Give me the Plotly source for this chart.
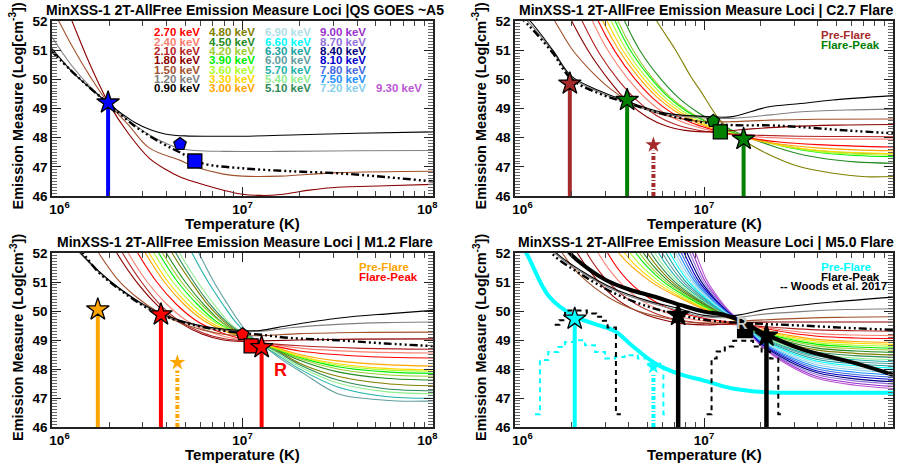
import plotly.graph_objects as go

FONT = "Liberation Sans, Arial, Helvetica, sans-serif"
W, H = 905, 468

# ---------------- colours of the energy loci ----------------
ENERGY_COLORS = {
    "0.90": "#000000", "1.20": "#808080", "1.50": "#A0522D", "1.80": "#8B0000",
    "2.10": "#B22222", "2.40": "#FA8072", "2.70": "#FF0000", "3.00": "#FFA500",
    "3.30": "#FFD700", "3.60": "#ADFF2F", "3.90": "#00EE00", "4.20": "#9ACD32",
    "4.50": "#228B22", "4.80": "#808000", "5.10": "#2E8B57", "5.40": "#90EE90",
    "5.70": "#20B2AA", "6.00": "#5F9EA0", "6.30": "#1AA3A3", "6.60": "#00FFFF",
    "6.90": "#B0E0E6", "7.20": "#87CEEB", "7.50": "#1E90FF", "7.80": "#4169E1",
    "8.10": "#0000CD", "8.40": "#000080", "8.70": "#9370DB", "9.00": "#9932CC",
    "9.30": "#BA55D3",
}
LEGEND_COLUMNS = [
    ["2.70", "2.40", "2.10", "1.80", "1.50", "1.20", "0.90"],
    ["4.80", "4.50", "4.20", "3.90", "3.60", "3.30", "3.00"],
    ["6.90", "6.60", "6.30", "6.00", "5.70", "5.40", "5.10"],
    ["9.00", "8.70", "8.40", "8.10", "7.80", "7.50", "7.20"],
    ["", "", "", "", "", "", "9.30"],
]

# ---------------- loci: [log10 T, log EM] ----------------
QS_LOCI = {
    "1.80": [[6.05, 52.9], [6.105, 52.0], [6.2, 50.5], [6.3, 49.15], [6.4, 48.15], [6.51, 47.3], [6.6, 46.9], [6.67, 46.66], [6.75, 46.48], [6.9, 46.2], [7.0, 46.06], [7.1, 46.02], [7.2, 46.05], [7.35, 46.2], [7.5, 46.3], [7.75, 46.35], [8.0, 46.4]],
    "1.50": [[5.98, 52.6], [6.035, 52.0], [6.1, 51.2], [6.2, 50.1], [6.3, 49.15], [6.4, 48.45], [6.51, 47.65], [6.67, 47.23], [6.75, 47.0], [6.9, 46.75], [7.0, 46.68], [7.2, 46.68], [7.5, 46.8], [8.0, 46.85]],
    "1.20": [[6.0, 51.45], [6.1, 50.5], [6.2, 49.75], [6.3, 49.15], [6.4, 48.6], [6.51, 48.1], [6.6, 47.8], [6.67, 47.63], [6.75, 47.56], [6.9, 47.53], [7.2, 47.53], [7.6, 47.55], [8.0, 47.56]],
    "0.90": [[6.0, 51.05], [6.1, 50.3], [6.2, 49.7], [6.3, 49.15], [6.44, 48.5], [6.52, 48.26], [6.6, 48.12], [6.7, 48.06], [6.85, 48.05], [7.0, 48.05], [7.3, 48.1], [7.6, 48.15], [8.0, 48.2]],
}
QS_DASH = [[6.0, 50.95], [6.1, 50.3], [6.2, 49.7], [6.3, 49.15], [6.44, 48.37], [6.58, 47.8], [6.67, 47.5], [6.79, 47.12], [7.0, 46.95], [7.25, 46.85], [7.5, 46.78], [7.75, 46.65], [8.0, 46.5]]

C27_LOCI = {
    "4.80": [[6.7, 52.6], [6.75, 52.0], [6.85, 51.0], [6.93, 50.1], [6.979, 49.63], [7.085, 48.6], [7.208, 47.92], [7.332, 47.46], [7.508, 47.0], [7.683, 46.78], [7.86, 46.66], [8.0, 46.67]],
    "4.50": [[6.53, 52.8], [6.58, 52.0], [6.66, 51.0], [6.76, 50.1], [6.86, 49.4], [6.96, 48.9], [7.06, 48.52], [7.16, 48.22], [7.26, 47.95], [7.36, 47.72], [7.5, 47.45], [7.65, 47.27], [7.8, 47.17], [8.0, 47.12]],
    "4.20": [[6.5, 52.8], [6.545, 52.0], [6.625, 51.0], [6.72, 50.1], [6.82, 49.4], [6.92, 48.9], [7.02, 48.55], [7.12, 48.27], [7.22, 48.05], [7.32, 47.88], [7.46, 47.68], [7.6, 47.55], [7.8, 47.47], [8.0, 47.45]],
    "3.90": [[6.48, 52.8], [6.53, 52.0], [6.61, 51.0], [6.71, 50.1], [6.81, 49.4], [6.91, 48.9], [7.01, 48.55], [7.11, 48.27], [7.21, 48.05], [7.31, 47.88], [7.46, 47.65], [7.6, 47.5], [7.8, 47.39], [8.0, 47.35]],
    "3.60": [[6.46, 52.8], [6.51, 52.0], [6.59, 51.0], [6.69, 50.1], [6.79, 49.4], [6.89, 48.9], [6.99, 48.55], [7.09, 48.28], [7.19, 48.07], [7.29, 47.9], [7.44, 47.68], [7.6, 47.52], [7.8, 47.43], [8.0, 47.4]],
    "3.30": [[6.44, 52.8], [6.487, 52.0], [6.57, 51.0], [6.67, 50.1], [6.77, 49.4], [6.87, 48.9], [6.97, 48.55], [7.07, 48.28], [7.17, 48.08], [7.27, 47.92], [7.42, 47.72], [7.6, 47.57], [7.8, 47.49], [8.0, 47.45]],
    "3.00": [[6.415, 52.8], [6.465, 52.0], [6.55, 51.0], [6.65, 50.1], [6.75, 49.4], [6.85, 48.9], [6.95, 48.55], [7.05, 48.3], [7.15, 48.1], [7.25, 47.95], [7.4, 47.78], [7.6, 47.65], [7.8, 47.58], [8.0, 47.55]],
    "2.70": [[6.39, 52.8], [6.44, 52.0], [6.53, 50.95], [6.63, 50.05], [6.73, 49.35], [6.83, 48.85], [6.93, 48.52], [7.03, 48.3], [7.13, 48.13], [7.23, 48.0], [7.4, 47.85], [7.6, 47.76], [7.8, 47.71], [8.0, 47.68]],
    "2.40": [[6.36, 52.8], [6.41, 52.0], [6.5, 50.9], [6.6, 50.0], [6.7, 49.3], [6.8, 48.8], [6.9, 48.5], [7.0, 48.3], [7.1, 48.15], [7.2, 48.06], [7.35, 48.0], [7.55, 47.96], [7.8, 47.95], [8.0, 47.95]],
    "2.10": [[6.3, 52.8], [6.355, 52.0], [6.45, 50.85], [6.55, 49.95], [6.65, 49.25], [6.75, 48.75], [6.85, 48.45], [6.95, 48.28], [7.05, 48.18], [7.15, 48.12], [7.3, 48.08], [7.5, 48.05], [7.75, 48.04], [8.0, 48.03]],
    "1.80": [[6.25, 52.7], [6.3, 52.0], [6.4, 50.85], [6.5, 49.95], [6.6, 49.2], [6.7, 48.7], [6.8, 48.4], [6.9, 48.25], [7.0, 48.2], [7.1, 48.22], [7.25, 48.3], [7.45, 48.38], [7.7, 48.43], [8.0, 48.45]],
    "1.50": [[6.15, 52.6], [6.21, 52.0], [6.3, 51.05], [6.4, 50.3], [6.5, 49.7], [6.6, 49.25], [6.7, 48.95], [6.8, 48.75], [6.9, 48.62], [7.0, 48.55], [7.15, 48.55], [7.35, 48.6], [7.6, 48.63], [8.0, 48.64]],
    "1.20": [[6.0, 52.4], [6.08, 51.9], [6.2, 50.95], [6.3, 50.05], [6.45, 49.55], [6.59, 49.2], [6.79, 48.8], [7.0, 48.68], [7.15, 48.66], [7.35, 48.78], [7.5, 48.88], [7.75, 48.95], [8.0, 48.98]],
    "0.90": [[6.0, 52.5], [6.08, 52.0], [6.2, 51.0], [6.3, 50.1], [6.45, 49.6], [6.59, 49.25], [6.79, 48.85], [7.0, 48.73], [7.15, 48.72], [7.33, 49.04], [7.51, 49.17], [7.68, 49.29], [8.0, 49.44]],
}
C27_DASH = [[6.0, 52.3], [6.08, 51.8], [6.2, 50.9], [6.3, 50.0], [6.45, 49.5], [6.59, 49.2], [6.79, 48.8], [7.0, 48.52], [7.15, 48.43], [7.35, 48.42], [7.5, 48.37], [7.75, 48.25], [8.0, 48.15]]

M12_LOCI = {
    "6.00": [[6.72, 52.6], [6.77, 52.0], [6.85, 51.0], [6.92, 50.25], [6.98, 49.65], [7.02, 49.3], [7.06, 49.05], [7.12, 48.75], [7.2, 48.35], [7.32, 47.85], [7.5, 47.15], [7.7, 46.95], [7.85, 46.89], [8.0, 46.9]],
    "5.70": [[6.69, 52.6], [6.735, 52.0], [6.82, 51.0], [6.9, 50.2], [6.96, 49.65], [7.01, 49.3], [7.05, 49.08], [7.1, 48.85], [7.18, 48.5], [7.3, 48.0], [7.5, 47.38], [7.75, 47.05], [8.0, 46.99]],
    "5.40": [[6.62, 52.6], [6.67, 52.0], [6.77, 50.95], [6.86, 50.15], [6.93, 49.6], [6.99, 49.3], [7.04, 49.08], [7.1, 48.85], [7.18, 48.55], [7.3, 48.08], [7.5, 47.52], [7.75, 47.22], [8.0, 47.15]],
    "5.10": [[6.6, 52.6], [6.65, 52.0], [6.75, 50.95], [6.84, 50.15], [6.92, 49.6], [6.98, 49.3], [7.04, 49.07], [7.1, 48.87], [7.18, 48.6], [7.3, 48.15], [7.5, 47.62], [7.75, 47.32], [8.0, 47.25]],
    "4.80": [[6.58, 52.6], [6.63, 52.0], [6.73, 51.0], [6.82, 50.2], [6.9, 49.65], [6.97, 49.3], [7.04, 49.06], [7.1, 48.88], [7.18, 48.65], [7.3, 48.2], [7.5, 47.75], [7.75, 47.5], [8.0, 47.42]],
    "4.50": [[6.55, 52.6], [6.6, 52.0], [6.7, 51.0], [6.8, 50.2], [6.89, 49.62], [6.97, 49.27], [7.04, 49.06], [7.1, 48.9], [7.17, 48.7], [7.3, 48.3], [7.5, 47.9], [7.75, 47.68], [8.0, 47.62]],
    "4.20": [[6.53, 52.6], [6.58, 52.0], [6.68, 51.0], [6.78, 50.25], [6.88, 49.65], [6.96, 49.3], [7.03, 49.08], [7.09, 48.93], [7.16, 48.74], [7.3, 48.35], [7.5, 48.0], [7.75, 47.8], [8.0, 47.75]],
    "3.90": [[6.51, 52.6], [6.56, 52.0], [6.66, 51.0], [6.76, 50.25], [6.86, 49.65], [6.95, 49.3], [7.02, 49.1], [7.08, 48.95], [7.15, 48.76], [7.3, 48.4], [7.5, 48.08], [7.75, 47.9], [8.0, 47.85]],
    "3.60": [[6.485, 52.6], [6.535, 52.0], [6.635, 51.0], [6.735, 50.25], [6.835, 49.7], [6.935, 49.33], [7.0, 49.15], [7.07, 48.96], [7.15, 48.77], [7.3, 48.42], [7.5, 48.13], [7.75, 47.97], [8.0, 47.92]],
    "3.30": [[6.46, 52.6], [6.51, 52.0], [6.61, 51.0], [6.71, 50.25], [6.81, 49.7], [6.91, 49.35], [7.0, 49.12], [7.07, 48.95], [7.15, 48.78], [7.3, 48.45], [7.5, 48.18], [7.75, 48.02], [8.0, 47.97]],
    "3.00": [[6.44, 52.6], [6.49, 52.0], [6.59, 51.0], [6.69, 50.25], [6.79, 49.7], [6.89, 49.35], [6.99, 49.1], [7.07, 48.95], [7.15, 48.8], [7.3, 48.5], [7.5, 48.28], [7.75, 48.15], [8.0, 48.1]],
    "2.70": [[6.4, 52.6], [6.45, 52.0], [6.55, 51.0], [6.65, 50.25], [6.75, 49.7], [6.85, 49.35], [6.95, 49.12], [7.05, 48.98], [7.15, 48.82], [7.3, 48.62], [7.6, 48.45], [8.0, 48.38]],
    "2.40": [[6.35, 52.6], [6.4, 52.0], [6.5, 51.0], [6.6, 50.25], [6.7, 49.7], [6.8, 49.35], [6.9, 49.13], [7.0, 49.0], [7.1, 48.9], [7.3, 48.72], [7.6, 48.6], [8.0, 48.55]],
    "2.10": [[6.32, 52.6], [6.37, 52.0], [6.47, 51.0], [6.57, 50.2], [6.67, 49.65], [6.79, 49.25], [6.9, 49.05], [7.0, 48.97], [7.1, 48.9], [7.3, 48.8], [7.6, 48.72], [8.0, 48.68]],
    "1.80": [[6.29, 52.6], [6.34, 52.0], [6.45, 50.95], [6.56, 50.15], [6.67, 49.6], [6.79, 49.2], [6.9, 49.0], [7.0, 48.95], [7.1, 48.97], [7.3, 49.0], [7.6, 49.03], [8.0, 49.04]],
    "1.50": [[6.2, 52.5], [6.245, 52.0], [6.35, 51.05], [6.45, 50.45], [6.56, 49.95], [6.67, 49.6], [6.79, 49.35], [6.9, 49.2], [7.0, 49.15], [7.1, 49.15], [7.3, 49.22], [7.6, 49.26], [8.0, 49.27]],
    "1.20": [[6.1, 52.35], [6.15, 51.97], [6.25, 51.32], [6.35, 50.78], [6.45, 50.32], [6.56, 49.92], [6.67, 49.65], [6.79, 49.45], [6.9, 49.35], [7.0, 49.3], [7.1, 49.3], [7.25, 49.42], [7.5, 49.54], [7.75, 49.6], [8.0, 49.62]],
    "0.90": [[6.1, 52.4], [6.15, 52.0], [6.25, 51.35], [6.35, 50.8], [6.45, 50.35], [6.56, 49.95], [6.67, 49.68], [6.79, 49.48], [6.9, 49.38], [7.0, 49.33], [7.09, 49.33], [7.25, 49.51], [7.51, 49.76], [7.775, 49.91], [8.0, 50.02]],
}
M12_DASH = [[6.12, 52.3], [6.17, 51.93], [6.25, 51.3], [6.35, 50.77], [6.45, 50.3], [6.56, 49.9], [6.67, 49.65], [6.79, 49.45], [6.9, 49.32], [6.98, 49.25], [7.1, 49.18], [7.25, 49.07], [7.5, 48.99], [7.75, 48.88], [8.0, 48.79]]

M50_LOCI = {
    "9.30": [[6.905, 52.7], [6.955, 52.0], [7.016, 51.04], [7.078, 50.44], [7.139, 49.96], [7.2, 49.6], [7.3, 48.81], [7.45, 48.12], [7.6, 47.67], [7.8, 47.44], [8.0, 47.33]],
    "9.00": [[6.89, 52.7], [6.94, 52.0], [7.005, 51.04], [7.07, 50.44], [7.135, 49.96], [7.2, 49.6], [7.3, 48.83], [7.45, 48.17], [7.6, 47.73], [7.8, 47.51], [8.0, 47.4]],
    "8.70": [[6.875, 52.7], [6.925, 52.0], [6.994, 51.04], [7.063, 50.44], [7.131, 49.96], [7.2, 49.6], [7.3, 48.86], [7.45, 48.22], [7.6, 47.8], [7.8, 47.59], [8.0, 47.48]],
    "8.40": [[6.86, 52.7], [6.91, 52.0], [6.983, 51.04], [7.055, 50.44], [7.128, 49.96], [7.2, 49.6], [7.3, 48.89], [7.45, 48.27], [7.6, 47.87], [7.8, 47.66], [8.0, 47.56]],
    "8.10": [[6.845, 52.7], [6.895, 52.0], [6.971, 51.04], [7.048, 50.44], [7.124, 49.96], [7.2, 49.6], [7.3, 48.91], [7.45, 48.33], [7.6, 47.93], [7.8, 47.74], [8.0, 47.64]],
    "7.80": [[6.83, 52.7], [6.88, 52.0], [6.96, 51.04], [7.04, 50.44], [7.12, 49.96], [7.2, 49.6], [7.3, 48.94], [7.45, 48.38], [7.6, 48.0], [7.8, 47.81], [8.0, 47.72]],
    "7.50": [[6.815, 52.7], [6.865, 52.0], [6.949, 51.04], [7.033, 50.44], [7.116, 49.96], [7.2, 49.6], [7.3, 48.97], [7.45, 48.43], [7.6, 48.07], [7.8, 47.89], [8.0, 47.8]],
    "7.20": [[6.8, 52.7], [6.85, 52.0], [6.938, 51.04], [7.025, 50.44], [7.113, 49.96], [7.2, 49.6], [7.3, 49.0], [7.45, 48.48], [7.6, 48.14], [7.8, 47.97], [8.0, 47.88]],
    "6.90": [[6.785, 52.7], [6.835, 52.0], [6.926, 51.04], [7.018, 50.44], [7.109, 49.96], [7.2, 49.6], [7.3, 49.03], [7.45, 48.53], [7.6, 48.21], [7.8, 48.04], [8.0, 47.96]],
    "6.60": [[6.77, 52.7], [6.82, 52.0], [6.915, 51.04], [7.01, 50.44], [7.105, 49.96], [7.2, 49.6], [7.3, 49.05], [7.45, 48.58], [7.6, 48.27], [7.8, 48.11], [8.0, 48.03]],
    "6.30": [[6.75, 52.7], [6.8, 52.0], [6.9, 51.04], [7.0, 50.44], [7.1, 49.96], [7.2, 49.6], [7.3, 49.08], [7.45, 48.63], [7.6, 48.33], [7.8, 48.18], [8.0, 48.1]],
    "6.00": [[6.73, 52.7], [6.78, 52.0], [6.885, 51.04], [6.99, 50.44], [7.095, 49.96], [7.2, 49.6], [7.3, 49.1], [7.45, 48.68], [7.6, 48.39], [7.8, 48.25], [8.0, 48.18]],
    "5.70": [[6.71, 52.7], [6.76, 52.0], [6.87, 51.04], [6.98, 50.44], [7.09, 49.96], [7.2, 49.6], [7.3, 49.13], [7.45, 48.72], [7.6, 48.45], [7.8, 48.32], [8.0, 48.25]],
    "5.40": [[6.69, 52.7], [6.74, 52.0], [6.855, 51.04], [6.97, 50.44], [7.085, 49.96], [7.2, 49.6], [7.3, 49.15], [7.45, 48.77], [7.6, 48.51], [7.8, 48.38], [8.0, 48.32]],
    "5.10": [[6.67, 52.7], [6.72, 52.0], [6.84, 51.04], [6.96, 50.44], [7.08, 49.96], [7.2, 49.6], [7.3, 49.18], [7.45, 48.82], [7.6, 48.58], [7.8, 48.46], [8.0, 48.4]],
    "4.80": [[6.65, 52.7], [6.7, 52.0], [6.825, 51.04], [6.95, 50.44], [7.075, 49.96], [7.2, 49.6], [7.3, 49.21], [7.45, 48.87], [7.6, 48.65], [7.8, 48.54], [8.0, 48.48]],
    "4.50": [[6.63, 52.7], [6.68, 52.0], [6.81, 51.04], [6.94, 50.44], [7.07, 49.96], [7.2, 49.6], [7.3, 49.24], [7.45, 48.93], [7.6, 48.72], [7.8, 48.62], [8.0, 48.57]],
    "4.20": [[6.61, 52.7], [6.66, 52.0], [6.795, 51.04], [6.93, 50.44], [7.065, 49.96], [7.2, 49.6], [7.3, 49.27], [7.45, 48.98], [7.6, 48.79], [7.8, 48.7], [8.0, 48.65]],
    "3.90": [[6.59, 52.7], [6.64, 52.0], [6.78, 51.04], [6.92, 50.44], [7.06, 49.96], [7.2, 49.6], [7.3, 49.29], [7.45, 49.03], [7.6, 48.85], [7.8, 48.76], [8.0, 48.72]],
    "3.60": [[6.56, 52.7], [6.61, 52.0], [6.758, 51.04], [6.905, 50.44], [7.053, 49.96], [7.2, 49.6], [7.3, 49.31], [7.45, 49.07], [7.6, 48.9], [7.8, 48.82], [8.0, 48.78]],
    "3.30": [[6.53, 52.7], [6.58, 52.0], [6.735, 51.04], [6.89, 50.44], [7.045, 49.96], [7.2, 49.6], [7.3, 49.34], [7.45, 49.11], [7.6, 48.96], [7.8, 48.89], [8.0, 48.85]],
    "3.00": [[6.5, 52.7], [6.55, 52.0], [6.713, 51.04], [6.875, 50.44], [7.038, 49.96], [7.2, 49.6], [7.3, 49.36], [7.45, 49.16], [7.6, 49.02], [7.8, 48.95], [8.0, 48.92]],
    "2.70": [[6.44, 52.7], [6.49, 52.0], [6.59, 51.1], [6.71, 50.45], [6.85, 50.0], [7.0, 49.75], [7.12, 49.63], [7.2, 49.57], [7.3, 49.43], [7.45, 49.25], [7.6, 49.13], [7.8, 49.07], [8.0, 49.05]],
    "2.40": [[6.39, 52.7], [6.44, 52.0], [6.54, 51.1], [6.66, 50.4], [6.8, 49.95], [6.95, 49.7], [7.1, 49.6], [7.2, 49.55], [7.3, 49.45], [7.45, 49.32], [7.6, 49.22], [7.8, 49.17], [8.0, 49.15]],
    "2.10": [[6.33, 52.7], [6.38, 52.0], [6.48, 51.1], [6.6, 50.4], [6.75, 49.9], [6.9, 49.65], [7.05, 49.55], [7.2, 49.52], [7.3, 49.47], [7.45, 49.4], [7.6, 49.35], [7.8, 49.32], [8.0, 49.3]],
    "1.80": [[6.28, 52.7], [6.33, 52.0], [6.43, 51.1], [6.55, 50.35], [6.7, 49.85], [6.85, 49.6], [7.0, 49.52], [7.1, 49.55], [7.2, 49.6], [7.4, 49.62], [7.7, 49.62], [8.0, 49.62]],
    "1.50": [[6.2, 52.6], [6.25, 52.0], [6.35, 51.2], [6.5, 50.45], [6.65, 50.0], [6.8, 49.75], [6.95, 49.6], [7.1, 49.6], [7.2, 49.65], [7.4, 49.72], [7.7, 49.78], [8.0, 49.8]],
    "1.20": [[6.16, 52.5], [6.21, 52.0], [6.353, 51.33], [6.53, 50.7], [6.705, 50.3], [6.847, 50.05], [7.0, 49.8], [7.17, 49.78], [7.33, 49.9], [7.51, 49.98], [7.75, 50.05], [8.0, 50.08]],
    "0.90": [[6.17, 52.5], [6.22, 52.0], [6.353, 51.38], [6.53, 50.75], [6.705, 50.35], [6.847, 50.12], [7.0, 49.85], [7.17, 49.85], [7.33, 50.06], [7.51, 50.2], [7.68, 50.31], [8.0, 50.48]],
}
M50_DASH = [[6.15, 52.4], [6.2, 51.95], [6.353, 51.25], [6.53, 50.6], [6.705, 50.15], [6.847, 49.9], [7.0, 49.7], [7.17, 49.6], [7.33, 49.55], [7.51, 49.5], [7.75, 49.42], [8.0, 49.35]]
M50_PEAK_THICK = [[6.25, 52.5], [6.29, 52.0], [6.4, 51.4], [6.48, 51.07], [6.6, 50.75], [6.74, 50.49], [6.88, 50.2], [7.0, 49.98], [7.1, 49.88], [7.18, 49.7], [7.32, 49.22], [7.52, 48.68], [7.8, 48.2], [8.0, 47.8]]
M50_PRE_THICK = [[6.0, 52.6], [6.06, 52.0], [6.18, 50.5], [6.32, 49.8], [6.42, 49.56], [6.53, 49.3], [6.62, 48.8], [6.74, 48.2], [6.86, 47.85], [7.0, 47.6], [7.15, 47.33], [7.33, 47.2], [7.6, 47.18], [8.0, 47.18]]

# Woods et al. 2017 DEM histograms (step edges in log T, values in log EM)
WOODS_PRE_LOGT = [6.106, 6.132, 6.176, 6.23, 6.265, 6.31, 6.37, 6.423, 6.476, 6.53, 6.58, 6.65, 6.705, 6.785, 6.81]
WOODS_PRE_EM = [46.44, 48.31, 48.59, 48.76, 48.93, 48.99, 48.82, 48.59, 48.36, 48.41, 48.47, 48.36, 48.18, 46.44, 46.44]
WOODS_PEAK1_LOGT = [6.21, 6.235, 6.265, 6.38, 6.43, 6.465, 6.49, 6.534, 6.56]
WOODS_PEAK1_EM = [49.53, 49.68, 50.02, 49.91, 49.8, 49.66, 49.43, 46.44, 46.44]
WOODS_PEAK2_LOGT = [7.014, 7.04, 7.067, 7.11, 7.155, 7.26, 7.305, 7.35, 7.393, 7.416]
WOODS_PEAK2_EM = [46.44, 48.36, 48.6, 48.78, 48.97, 48.78, 48.6, 48.36, 46.44, 46.44]

# ---------------- fitted solutions (T in K, log EM) ----------------
QS_STAR = (1.97e6, 49.2)
QS_PENT = (4.7e6, 47.78)
QS_SQUARE = (5.62e6, 47.2)

C27_PRE_STAR = (1.95e6, 49.85)
C27_PRE_SMALL = (5.4e6, 47.75, 47.55)
C27_PEAK_STARS = [(3.92e6, 49.29), (1.62e7, 47.95)]
C27_PENT = (1.12e7, 48.57)
C27_SQUARE = (1.22e7, 48.2)

M12_PRE_STAR = (1.74e6, 50.05)
M12_PRE_SMALL = (4.55e6, 48.22, 47.95)
M12_PEAK_STARS = [(3.73e6, 49.88), (1.26e7, 48.75)]
M12_PENT = (1.0e7, 49.2)
M12_SQUARE = (1.11e7, 48.8)

M50_PRE_STAR = (2.07e6, 49.73)
M50_PRE_SMALL = (5.4e6, 48.07, 47.85)
M50_PEAK_STARS = [(7.3e6, 49.86), (2.14e7, 49.14)]
M50_SQUARE = (1.65e7, 49.34)

TITLES = [
    "MinXSS-1 2T-AllFree Emission Measure Loci |QS GOES ~A5",
    "MinXSS-1 2T-AllFree Emission Measure Loci | C2.7 Flare",
    "MinXSS-1 2T-AllFree Emission Measure Loci | M1.2 Flare",
    "MinXSS-1 2T-AllFree Emission Measure Loci | M5.0 Flare",
]
X_TICKS = [1e6, 1e7, 1e8]
X_TICKTEXT = ["\u00a0\u00a0\u00a0\u00a010<sup>6</sup>", "10<sup>7</sup>", "10<sup>8</sup>\u00a0\u00a0\u00a0"]
Y_TICKS = [46, 47, 48, 49, 50, 51, 52]
X_MINOR = [m * d for d in (1e6, 1e7) for m in range(2, 10)]

# ---------------- layout geometry (pixels) ----------------
PANELS = {
    "tl": dict(x0=52, x1=433, y0=21, y1=196, xa="x", ya="y"),
    "tr": dict(x0=515, x1=893, y0=21, y1=196, xa="x2", ya="y2"),
    "bl": dict(x0=52, x1=433, y0=253, y1=427, xa="x3", ya="y3"),
    "br": dict(x0=515, x1=893, y0=253, y1=427, xa="x4", ya="y4"),
}

fig = go.Figure()


def px(x, y):
    return x / W, 1 - y / H


def add_line(p, pts, color, width=1.1, dash=None, shape="spline"):
    pan = PANELS[p]
    fig.add_trace(go.Scatter(
        x=[10 ** a for a, b in pts], y=[b for a, b in pts], mode="lines",
        line=dict(color=color, width=width, dash=dash, shape=shape, smoothing=1.0),
        xaxis=pan["xa"], yaxis=pan["ya"], hoverinfo="skip", showlegend=False))


def add_vline(p, t, em_top, color, width=4, dash=None):
    pan = PANELS[p]
    fig.add_trace(go.Scatter(x=[t, t], y=[46, em_top], mode="lines",
                             line=dict(color=color, width=width, dash=dash),
                             xaxis=pan["xa"], yaxis=pan["ya"], hoverinfo="skip", showlegend=False))


def add_marker(p, t, em, symbol, size, color, outline=True):
    pan = PANELS[p]
    fig.add_trace(go.Scatter(x=[t], y=[em], mode="markers",
                             marker=dict(symbol=symbol, size=size, color=color,
                                         line=dict(color="black", width=1.3 if outline else 0)),
                             xaxis=pan["xa"], yaxis=pan["ya"], hoverinfo="skip", showlegend=False,
                             cliponaxis=False))


DASHDOT3 = "8px,3px,2px,3px,2px,3px,2px,3px"
SMALLDASH = "4px,2px,1px,2px"
BIG = 17

# ---- QS panel ----
for e, pts in QS_LOCI.items():
    add_line("tl", pts, ENERGY_COLORS[e])
add_line("tl", QS_DASH, "black", width=2.4, dash=DASHDOT3)
add_vline("tl", QS_STAR[0], QS_STAR[1], "#0000FF")
add_marker("tl", QS_STAR[0], QS_STAR[1], "star", BIG, "#0000FF")
add_marker("tl", QS_PENT[0], QS_PENT[1], "pentagon", 13, "#0000FF")
add_marker("tl", QS_SQUARE[0], QS_SQUARE[1], "square", 14, "#0000FF")

# ---- C2.7 panel ----
for e, pts in C27_LOCI.items():
    add_line("tr", pts, ENERGY_COLORS[e])
add_line("tr", C27_DASH, "black", width=2.4, dash=DASHDOT3)
BROWN = "#A52A2A"
GREEN = "#008000"
add_vline("tr", C27_PRE_STAR[0], C27_PRE_STAR[1], BROWN)
add_vline("tr", C27_PRE_SMALL[0], C27_PRE_SMALL[2], BROWN, width=4, dash=SMALLDASH)
for t, em in C27_PEAK_STARS:
    add_vline("tr", t, em, GREEN)
add_marker("tr", C27_PRE_STAR[0], C27_PRE_STAR[1], "star", BIG, BROWN)
add_marker("tr", C27_PRE_SMALL[0], C27_PRE_SMALL[1], "star", 12, BROWN, outline=False)
add_marker("tr", C27_PENT[0], C27_PENT[1], "pentagon", 13, GREEN)
add_marker("tr", C27_SQUARE[0], C27_SQUARE[1], "square", 14, GREEN)
for t, em in C27_PEAK_STARS:
    add_marker("tr", t, em, "star", BIG, GREEN)

# ---- M1.2 panel ----
for e, pts in M12_LOCI.items():
    add_line("bl", pts, ENERGY_COLORS[e])
add_line("bl", M12_DASH, "black", width=2.4, dash=DASHDOT3)
ORANGE = "#FFA500"
RED = "#FF0000"
add_vline("bl", M12_PRE_STAR[0], M12_PRE_STAR[1], ORANGE)
add_vline("bl", M12_PRE_SMALL[0], M12_PRE_SMALL[2], ORANGE, width=4, dash=SMALLDASH)
for t, em in M12_PEAK_STARS:
    add_vline("bl", t, em, RED)
add_marker("bl", M12_PRE_STAR[0], M12_PRE_STAR[1], "star", BIG, ORANGE)
add_marker("bl", M12_PRE_SMALL[0], M12_PRE_SMALL[1], "star", 12, ORANGE, outline=False)
add_marker("bl", M12_PENT[0], M12_PENT[1], "pentagon", 13, RED)
add_marker("bl", M12_SQUARE[0], M12_SQUARE[1], "square", 14, RED)
for t, em in M12_PEAK_STARS:
    add_marker("bl", t, em, "star", BIG, RED)

# ---- M5.0 panel ----
for e, pts in M50_LOCI.items():
    add_line("br", pts, ENERGY_COLORS[e])
add_line("br", M50_DASH, "black", width=2.4, dash=DASHDOT3)
CYAN = "#00FFFF"
add_line("br", M50_PRE_THICK, CYAN, width=4)
add_line("br", M50_PEAK_THICK, "black", width=4)
add_line("br", [[a, b] for a, b in zip(WOODS_PRE_LOGT, WOODS_PRE_EM)], CYAN, width=2, dash="5px,4px", shape="hv")
add_line("br", [[a, b] for a, b in zip(WOODS_PEAK1_LOGT, WOODS_PEAK1_EM)], "black", width=2, dash="5px,4px", shape="hv")
add_line("br", [[a, b] for a, b in zip(WOODS_PEAK2_LOGT, WOODS_PEAK2_EM)], "black", width=2, dash="5px,4px", shape="hv")
add_vline("br", M50_PRE_STAR[0], M50_PRE_STAR[1], CYAN)
add_vline("br", M50_PRE_SMALL[0], M50_PRE_SMALL[2], CYAN, width=4, dash=SMALLDASH)
for t, em in M50_PEAK_STARS:
    add_vline("br", t, em, "black", width=4.5)
add_marker("br", M50_PRE_STAR[0], M50_PRE_STAR[1], "star", BIG, CYAN)
add_marker("br", M50_PRE_SMALL[0], M50_PRE_SMALL[1], "star", 11, CYAN, outline=False)
add_marker("br", M50_SQUARE[0], M50_SQUARE[1], "square", 15, "black")
for t, em in M50_PEAK_STARS:
    add_marker("br", t, em, "star", BIG, "black")

# ---------------- axes ----------------
layout_axes = {}
for i, (key, pan) in enumerate(PANELS.items()):
    sfx = "" if i == 0 else str(i + 1)
    xd = [pan["x0"] / W, pan["x1"] / W]
    yd = [1 - pan["y1"] / H, 1 - pan["y0"] / H]
    common = dict(showline=True, linecolor="#222222", linewidth=1.5, mirror="allticks",
                  ticks="inside", tickcolor="#222222", tickwidth=1.3, ticklen=9,
                  showgrid=False, zeroline=False, automargin=False,
                  tickfont=dict(family=FONT, size=13.5, color="black", weight="bold"))
    layout_axes["xaxis" + sfx] = dict(
        common, type="log", range=[6, 8], domain=xd, anchor="y" + sfx,
        tickmode="array", tickvals=X_TICKS, ticktext=X_TICKTEXT,
        minor=dict(tickvals=X_MINOR, ticks="inside", ticklen=5, tickcolor="#444444", tickwidth=1, showgrid=False))
    layout_axes["yaxis" + sfx] = dict(
        common, range=[46, 52], domain=yd, anchor="x" + sfx,
        tickmode="array", tickvals=Y_TICKS,
        minor=dict(tick0=46, dtick=0.1, ticks="inside", ticklen=5, tickcolor="#666666", tickwidth=1, showgrid=False))

annotations = []


def text(xp, yp, s, size, color="black", xanchor="center", angle=0):
    x, y = px(xp, yp)
    annotations.append(dict(x=x, y=y, xref="paper", yref="paper", text=s, showarrow=False,
                            xanchor=xanchor, yanchor="middle", textangle=angle, borderpad=0,
                            font=dict(family=FONT, size=size, color=color, weight="bold")))


# titles and axis titles
for (key, pan), title in zip(PANELS.items(), TITLES):
    cx = (pan["x0"] + pan["x1"]) / 2 + 2
    text(cx, pan["y0"] - 11, title, 14)
    text((pan["x0"] + pan["x1"]) / 2, pan["y1"] + 27, "Temperature (K)", 15)
    text(pan["x0"] - 35, (pan["y0"] + pan["y1"]) / 2 - 2, "Emission Measure (Log[cm<sup>-3</sup>])", 14.5, angle=-90)

# energy legend in QS panel
col_x = [153, 208, 264, 319, 375]
for ci, col in enumerate(LEGEND_COLUMNS):
    for ri, e in enumerate(col):
        if e:
            text(col_x[ci], 32.3 + ri * 9.33, e + " keV", 11.5, ENERGY_COLORS[e], xanchor="left")

# case legends
text(820, 35, "Pre-Flare", 11.5, BROWN, xanchor="left")
text(820, 44.5, "Flare-Peak", 11.5, GREEN, xanchor="left")
text(358, 267, "Pre-Flare", 11.5, ORANGE, xanchor="left")
text(358, 276.5, "Flare-Peak", 11.5, RED, xanchor="left")
text(820, 267, "Pre-Flare", 11.5, CYAN, xanchor="left")
text(820, 276.5, "Flare-Peak", 11.5, "black", xanchor="left")
text(888, 285.5, "-- Woods et al. 2017", 11.5, "black", xanchor="right")
text(280.5, 369.5, "R", 18, RED)
text(742, 323, "R", 16, "#C8C8C8")

fig.update_layout(
    width=W, height=H, margin=dict(l=0, r=0, t=0, b=0, pad=0, autoexpand=False),
    paper_bgcolor="white", plot_bgcolor="white", showlegend=False,
    font=dict(family=FONT, size=12, color="black", weight="bold"),
    annotations=annotations, **layout_axes)

fig.write_html("out.html", config={"displayModeBar": False})
